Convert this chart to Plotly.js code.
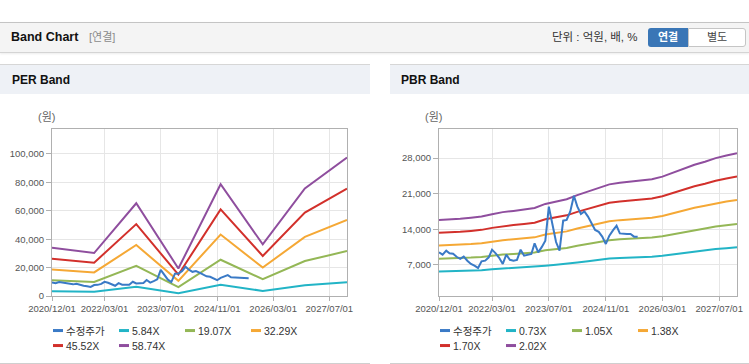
<!DOCTYPE html>
<html><head><meta charset="utf-8">
<script src="https://cdn.plot.ly/plotly-3.0.1.min.js"></script>
<style>
body{margin:0;background:#fff;font-family:"Liberation Sans","Noto Sans CJK KR",sans-serif;}
#page{position:relative;width:749px;height:364px;overflow:hidden;background:#fff;}
#hdr{position:absolute;left:0;top:22px;width:749px;height:31px;background:#f4f4f4;border-top:1px solid #c4c4c4;border-bottom:1px solid #d4d4d4;box-sizing:border-box;box-shadow:0 1px 2px rgba(0,0,0,0.08);}
.ht{position:absolute;top:0;line-height:29px;white-space:nowrap;}
#b1{position:absolute;left:648px;top:5px;width:40px;height:19px;background:#3a76b6;color:#fff;font-weight:bold;font-size:11px;line-height:19px;text-align:center;border-radius:3px 0 0 3px;}
#b2{position:absolute;left:688px;top:5px;width:58px;height:19px;background:#fff;color:#444;font-size:11px;line-height:17px;text-align:center;border:1px solid #c5c5c5;box-sizing:border-box;border-radius:0 3px 3px 0;}
.panel{position:absolute;top:64px;height:300px;border-top:1px solid #d6d6d6;box-sizing:border-box;}
.pline{position:absolute;top:363px;height:1px;background:#cfcfcf;z-index:5;}
.ptitle{position:absolute;left:0;top:0;right:0;height:29px;background:#eef1f6;font-weight:bold;font-size:12px;line-height:30px;color:#111;}
.chart{position:absolute;top:30px;height:290px;}
</style></head>
<body><div id="page">
<div id="hdr">
 <div class="ht" style="left:11px;font-weight:bold;font-size:12.5px;color:#111;">Band Chart</div>
 <div class="ht" style="left:89px;font-size:11px;color:#8a8a8a;">[연결]</div>
 <div class="ht" style="left:552px;font-size:11.5px;color:#333;">단위 : 억원, 배, %</div>
 <div id="b1">연결</div><div id="b2">별도</div>
</div>
<div class="panel" style="left:0;width:370px;"><div class="ptitle"><span style="margin-left:12px">PER Band</span></div><div id="per" class="chart" style="left:0;width:370px;"></div></div>
<div class="panel" style="left:390px;width:359px;"><div class="ptitle"><span style="margin-left:11px">PBR Band</span></div><div id="pbr" class="chart" style="left:0;width:359px;"></div></div>
<div class="pline" style="left:0;width:370px;"></div>
<div class="pline" style="left:390px;width:359px;"></div>
</div>
<script>
// ---------- data ----------
const priceDates = ['2020-12-01','2021-01-01','2021-02-01','2021-03-01','2021-04-01','2021-05-01','2021-06-01','2021-07-01','2021-08-01','2021-09-01','2021-10-01','2021-11-01',
 '2021-12-01','2022-01-01','2022-02-01','2022-03-01','2022-04-01','2022-05-01','2022-06-01','2022-07-01','2022-08-01','2022-09-01','2022-10-01','2022-11-01',
 '2022-12-01','2023-01-01','2023-02-01','2023-03-01','2023-04-01','2023-05-01','2023-06-01','2023-07-01','2023-08-01','2023-09-01','2023-10-01','2023-11-01',
 '2023-12-01','2024-01-01','2024-02-01','2024-03-01','2024-04-01','2024-05-01','2024-06-01','2024-07-01','2024-08-01','2024-09-01','2024-10-01','2024-11-01',
 '2024-12-01','2025-01-01','2025-02-01','2025-03-01','2025-04-01','2025-05-01','2025-06-01','2025-07-01','2025-08-01'];
const price = [9470,9020,9800,9300,9200,8600,8200,8630,7840,7200,6860,6410,
 7710,7840,8500,10000,9280,8400,7200,9020,8000,7840,7980,10000,
 8820,9000,9150,11240,9470,10500,11770,18440,15050,11500,9800,15690,
 15830,17500,20600,18500,17010,17520,16500,15200,13870,13500,12560,11120,
 12750,13800,14700,13200,13100,13080,13080,12560,12560];

const perDates = ['2020-12-01','2021-12-01','2022-12-01','2023-12-01','2024-12-01','2025-12-01','2026-12-01','2027-12-01'];
const per584  = [3380,3010,6490,1930,7830,3610,7530,9690];
const per1907 = [11020,9820,21210,6290,25550,11800,24600,31660];
const per3229 = [18660,16630,35910,10660,43270,19990,41650,53600];
const per4552 = [26310,23440,50620,15020,61000,28180,58720,75560];
const per5874 = [33950,30250,65320,19380,78710,36360,75780,97510];
const perNames = ['5.84X','19.07X','32.29X','45.52X','58.74X'];

const pbrDates = ['2020-12-01','2021-03-01','2021-06-01','2021-09-01','2021-12-01','2022-03-01','2022-06-01','2022-09-01','2022-12-01',
 '2023-03-01','2023-06-01','2023-09-01','2023-12-01','2024-03-01','2024-06-01','2024-09-01','2024-12-01',
 '2025-03-01','2025-06-01','2025-09-01','2025-12-01','2026-03-01','2026-06-01','2026-09-01','2026-12-01',
 '2027-03-01','2027-06-01','2027-09-01','2027-12-01'];
const pbr073 = [5716,5745,5804,5877,5964,6132,6278,6366,6461,6570,6862,7045,7191,7483,7738,8030,8249,8359,8432,8541,8614,8797,9089,9381,9636,9855,10111,10293,10461];
const pbr105 = [8222,8264,8348,8453,8579,8820,9030,9156,9293,9450,9870,10133,10343,10763,11130,11550,11865,12023,12128,12285,12390,12653,13073,13493,13860,14175,14543,14805,15047];
const pbr138 = [10805,10861,10971,11109,11275,11592,11868,12034,12213,12420,12972,13317,13593,14145,14628,15180,15594,15801,15939,16146,16284,16629,17181,17733,18216,18630,19113,19458,19775];
const pbr170 = [13311,13379,13515,13685,13889,14280,14620,14824,15045,15300,15980,16405,16745,17425,18020,18700,19210,19465,19635,19890,20060,20485,21165,21845,22440,22950,23545,23970,24361];
const pbr202 = [15817,15897,16059,16261,16503,16968,17372,17614,17877,18180,18988,19493,19897,20705,21412,22220,22826,23129,23331,23634,23836,24341,25149,25957,26664,27270,27977,28482,28947];
const pbrNames = ['0.73X','1.05X','1.38X','1.70X','2.02X'];

const xTickVals = ['2020-12-01','2022-03-01','2023-07-01','2024-11-01','2026-03-01','2027-07-01'];
const xTickText = ['2020/12/01','2022/03/01','2023/07/01','2024/11/01','2026/03/01','2027/07/01'];
const perYTicks = [0,20000,40000,60000,80000,100000];
const pbrYTicks = [7000,14000,21000,28000];
const priceName = '수정주가';
const bandColors = ['#22b4c6','#94b756','#f5a835','#d2302b','#8f4e9e'];
const priceColor = '#3a7ac6';

// ---------- build ----------
function traces(dates, bands, names){
  const t = bands.map((b,i)=>({type:'scatter',mode:'lines',x:dates,y:b,name:names[i],
    line:{color:bandColors[i],width:2},legendrank:i+2,hoverinfo:'skip'}));
  t.push({type:'scatter',mode:'lines',x:priceDates,y:price,name:priceName,
    line:{color:priceColor,width:2},legendrank:1,hoverinfo:'skip'});
  return t;
}
function layout(w,h,m,yr,ytv,annX){
  const ax = {showgrid:true,gridcolor:'#e6e6e6',gridwidth:1,showline:true,linecolor:'#b0b0b0',linewidth:1,mirror:true,
    ticks:'outside',tickcolor:'#b0b0b0',zeroline:false,fixedrange:true,tickfont:{family:'Liberation Sans, Noto Sans CJK KR',size:9.5,color:'#555'}};
  return {width:w,height:h,margin:m,paper_bgcolor:'rgba(0,0,0,0)',plot_bgcolor:'#fff',showlegend:true,
    font:{family:'Liberation Sans, Noto Sans CJK KR',color:'#333'},
    xaxis:Object.assign({},ax,{type:'date',range:['2020-12-01','2027-12-01'],tickvals:xTickVals,ticktext:xTickText,ticklen:4}),
    yaxis:Object.assign({},ax,{range:yr,tickvals:ytv,tickformat:',.0f',ticklen:5}),
    legend:{orientation:'h',x:0,xanchor:'left',y:-0.12,yanchor:'top',font:{size:10.5,color:'#333',family:'Liberation Sans, Noto Sans CJK KR'},
      entrywidth:21,entrywidthmode:'pixels',itemwidth:30,bgcolor:'rgba(0,0,0,0)',traceorder:'normal',itemclick:false,itemdoubleclick:false},
    annotations:[{text:'(원)',xref:'paper',yref:'paper',x:annX,y:1,yanchor:'bottom',yshift:4,xanchor:'center',showarrow:false,font:{size:11,color:'#666'}}]
  };
}
function fixLegend(id){
  const el=document.getElementById(id);
  const gs=[...el.querySelectorAll('.legend .traces')];
  const pos=gs.map(g=>{const m=/translate\(\s*([-\d.e]+)[\s,]+([-\d.e]+)\s*\)/.exec(g.getAttribute('transform')||'');return m?[+m[1],+m[2]]:null;});
  const ys=pos.filter(Boolean).map(v=>v[1]);
  const minY=ys.length?Math.min(...ys):0;
  gs.forEach((g,i)=>{
    const p=g.querySelector('.js-line'); if(p){p.setAttribute('d','M1,0h10');p.style.strokeWidth='3px';}
    const t=g.querySelector('.legendtext'); if(t){t.setAttribute('x',14);}
    const q=pos[i]; if(q && q[1]>minY+1){g.setAttribute('transform','translate('+q[0]+','+(q[1]-4)+')');}
  });
}
const cfg={staticPlot:true,displayModeBar:false};
Plotly.newPlot('per',traces(perDates,[per584,per1907,per3229,per4552,per5874],perNames),
  layout(370,290,{l:52,r:23,t:34,b:89},[0,117600],perYTicks,-0.017),cfg).then(()=>fixLegend('per'));
Plotly.newPlot('pbr',traces(pbrDates,[pbr073,pbr105,pbr138,pbr170,pbr202],pbrNames),
  layout(359,290,{l:49,r:12,t:34,b:89},[900,33700],pbrYTicks,-0.02),cfg).then(()=>fixLegend('pbr'));
</script>
</body></html>
